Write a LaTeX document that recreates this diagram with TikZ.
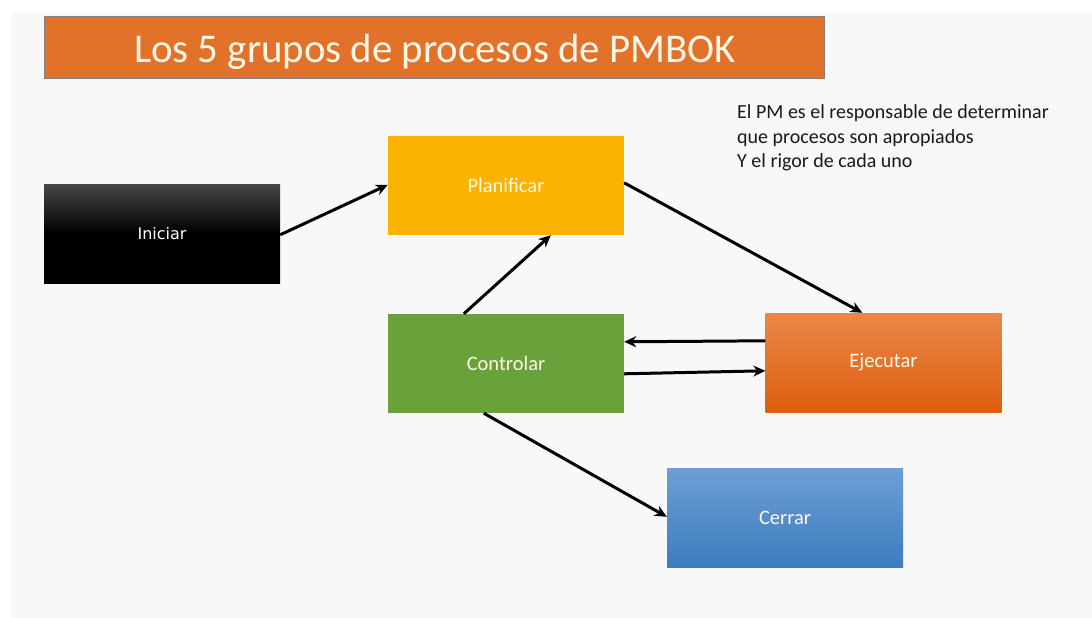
\documentclass[tikz,border=0pt]{standalone}
\usepackage{fontspec}
\setmainfont{Carlito}
\newfontfamily\dejavu{DejaVu Sans}
\usetikzlibrary{arrows.meta}
\definecolor{bgray}{HTML}{F8F8F8}
\definecolor{titleor}{HTML}{E2722A}
\definecolor{titleedge}{HTML}{7F7F7F}
\definecolor{plan}{HTML}{F9B300}
\definecolor{ctrl}{HTML}{69A23B}
\definecolor{ejtop}{HTML}{EA8747}
\definecolor{ejbot}{HTML}{DE5E0F}
\definecolor{cetop}{HTML}{6D9FD5}
\definecolor{cebot}{HTML}{3E7CBF}
\definecolor{txtw}{HTML}{FFF8E8}
\tikzset{
  x=1pt, y=-1pt,
  procbox/.style={rectangle, minimum width=236pt, minimum height=99pt, inner sep=0pt,
    text=txtw, font=\fontsize{20.5}{24}\selectfont},
  conn/.style={line width=3pt, -{Stealth[length=12pt,width=11pt]}, black}
}
\begin{document}
\begin{tikzpicture}
\useasboundingbox (0,0) rectangle (1092,618);
\fill[white] (0,0) rectangle (1092,618);
\fill[bgray] (11,12) rectangle (1092,618);
% title
\node[draw=titleedge, line width=1pt, fill=titleor, rectangle, minimum width=780pt, minimum height=62pt, inner sep=0pt,
  anchor=north west] (title) at (44,16) {};
\node[text=txtw, font=\fontsize{40.8}{48}\selectfont, anchor=base] (titletext) at (435,63) {Los 5 grupos de procesos de PMBOK};
% boxes
\node[procbox, top color=black!72, bottom color=black, middle color=black, shading angle=0, font=\dejavu\fontsize{16}{19}\selectfont, text=white] (ini) at (162,233.5) {Iniciar};
\node[procbox, fill=plan] (plan) at (506,185.5) {Planificar};
\node[procbox, fill=ctrl] (ctrl) at (506,363.5) {Controlar};
\node[procbox, top color=ejtop, bottom color=ejbot] (ej) at (883.5,362.5) {Ejecutar};
\node[procbox, top color=cetop, bottom color=cebot] (ce) at (785,517.5) {Cerrar};
% note
\node[anchor=north west, align=left, font=\fontsize{20}{24.5}\selectfont, text=black!90, inner sep=0pt] (note) at (737,104.5)
  {El PM es el responsable de determinar\\que procesos son apropiados\\Y el rigor de cada uno};
% connectors
\draw[conn] ([yshift=-51pt]ini.north east) -- ([yshift=-49pt]plan.north west);
\draw[conn] ([yshift=-47pt]plan.north east) -- ([xshift=97pt]ej.north west);
\draw[conn] ([xshift=76pt]ctrl.north west) -- ([xshift=163pt]plan.south west);
\draw[conn] ([yshift=-28pt]ej.north west) -- ([yshift=-28pt]ctrl.north east);
\draw[conn] ([yshift=-60pt]ctrl.north east) -- ([yshift=-58pt]ej.north west);
\draw[conn] ([xshift=96pt]ctrl.south west) -- ([yshift=-49pt]ce.north west);
\end{tikzpicture}
\end{document}
